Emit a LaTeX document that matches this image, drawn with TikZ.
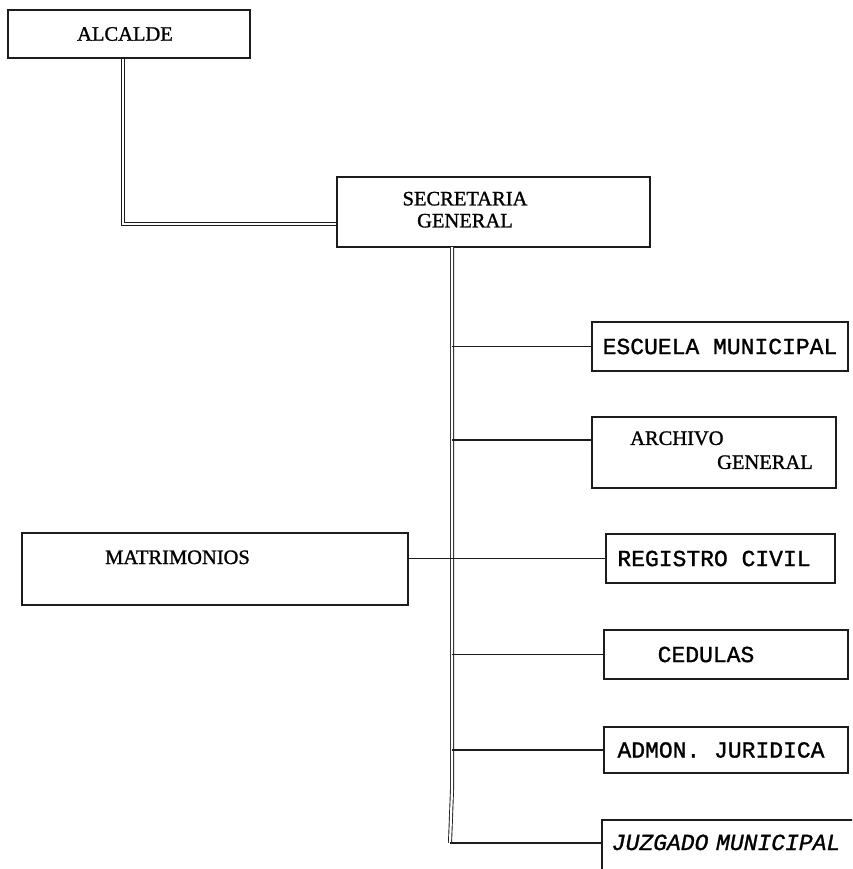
\documentclass[tikz,border=0pt]{standalone}
\usepackage{fontspec}
\setmainfont[FakeBold=1.2]{Liberation Serif}
\newfontfamily\typefont[FakeBold=1.2]{Liberation Mono}
\usetikzlibrary{positioning,calc}
\definecolor{InkBlack}{HTML}{1C1C1C}
\tikzset{
  unitbox/.style={draw=InkBlack, line width=1.6pt, rectangle, inner sep=0pt, fill=white},
  serifname/.style={font=\fontsize{20.5}{22}\selectfont},
  typename/.style={font=\typefont\fontsize{23}{26}\selectfont},
  mainline/.style={draw=InkBlack, line width=0.9pt, double=white, double distance=2.2pt},
  branchline/.style={draw=InkBlack, line width=1.3pt}
}

\begin{document}
\begin{tikzpicture}[x=1pt,y=-1pt]
    \clip (0,0) rectangle (852,869);
    \fill[white] (0,0) rectangle (852,869);

    % head of the office
    \node[unitbox, serifname, minimum width=242pt, minimum height=48pt] (alcalde) at (129,34)
      {ALCALDE\kern8pt};
    \node[unitbox, serifname, minimum width=313pt, minimum height=70pt] (secretaria) at (493.5,212)
      {\begin{tabular}{@{}c@{}}SECRETARIA\\GENERAL\end{tabular}\kern57pt};

    % units hanging from the secretaria
    \node[unitbox, typename, minimum width=256pt, minimum height=49pt] (escuela) at (720,346.5)
      {ESCUELA MUNICIPAL};
    \node[unitbox, serifname, minimum width=244pt, minimum height=71pt] (archivo) at (714,452.5)
      {\kern15pt\begin{tabular}{@{}l@{}}ARCHIVO\\[2pt]\hspace*{87pt}GENERAL\end{tabular}};
    \node[unitbox, typename, minimum width=229pt, minimum height=49pt] (registro) at (720.5,558.5)
      {REGISTRO CIVIL\kern13pt};
    \node[unitbox, serifname, minimum width=386pt, minimum height=72pt] (matrimonios) at (215,569)
      {\raisebox{5pt}[0pt][0pt]{MATRIMONIOS}\kern75pt};
    \node[unitbox, typename, minimum width=244pt, minimum height=49pt] (cedulas) at (726,654.5)
      {CEDULAS\kern40pt};
    \node[unitbox, typename, minimum width=244pt, minimum height=46pt] (admon) at (726,750)
      {ADMON. JURIDICA\kern10pt};
    \node[unitbox, typename, anchor=base west, minimum width=290pt, text width=270pt,
      inner xsep=10pt, inner ysep=10pt, text height=20pt, text depth=40pt, align=left] (juzgado) at (601,850)
      {\itshape JUZGADO MUNICIPAL};

    % points on the main lines
    \coordinate (elbow) at (123,224);
    \coordinate (trunktop) at (452,247);
    \coordinate (trunkend) at (450,843);

    % double lines
    \draw[mainline] (alcalde.south -| elbow) -- (elbow) -- (elbow -| secretaria.west);
    \draw[mainline] (trunktop) -- (452,790) -- (trunkend);

    % branches
    \draw[branchline] (trunktop |- escuela.west) -- (escuela.west);
    \draw[branchline] (trunktop |- 0,440) -- (archivo.west |- 0,440);
    \draw[branchline] (matrimonios.east |- registro.west) -- (registro.west);
    \draw[branchline] (trunktop |- cedulas.west) -- (cedulas.west);
    \draw[branchline] (trunktop |- admon.west) -- (admon.west);
    \draw[branchline] (trunkend) -- (juzgado.west |- trunkend);
  \end{tikzpicture}
\end{document}
